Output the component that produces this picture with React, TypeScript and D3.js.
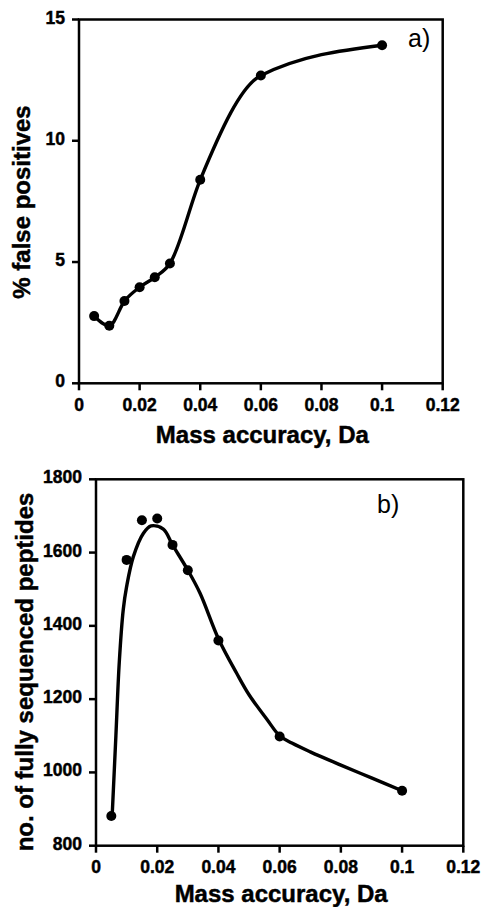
import React from "react";
import * as d3 from "d3";

// ---- Data ----
const massAccuracy = [0.005, 0.01, 0.015, 0.02, 0.025, 0.03, 0.04, 0.06, 0.1];
const falsePositives = [2.77, 2.37, 3.39, 3.96, 4.37, 4.94, 8.39, 12.69, 13.94];
const fullySequenced = [881, 1580, 1688, 1693, 1621, 1552, 1360, 1098, 950];

// fitted curve of panel b
const fitX = [0.0053, 0.0065, 0.0076, 0.0089, 0.010, 0.0122, 0.0155, 0.018, 0.022, 0.025, 0.030, 0.034, 0.040, 0.046, 0.050, 0.056, 0.060, 0.064, 0.070, 0.080, 0.090, 0.100];
const fitY = [885, 1100, 1300, 1444, 1507, 1589, 1653, 1673, 1664, 1621, 1552, 1489, 1365, 1270, 1212, 1143, 1100, 1080, 1056, 1020, 985, 950];

const xTicks = [0, 0.02, 0.04, 0.06, 0.08, 0.1, 0.12];
const xTickLabels = ["0", "0.02", "0.04", "0.06", "0.08", "0.1", "0.12"];
const yTicksA = [0, 5, 10, 15];
const yTicksB = [800, 1000, 1200, 1400, 1600, 1800];
const xTitle = "Mass accuracy, Da";
const yTitleA = "% false positives";
const yTitleB = "no. of fully sequenced peptides";

const FONT = "'Liberation Sans', Arial, Helvetica, sans-serif";

type PanelProps = {
  left: number; right: number; top: number; bottom: number;
  yDomain: [number, number]; yTicks: number[];
  xs: number[]; ys: number[];
  lineX: number[]; lineY: number[];
  curve: d3.CurveFactory;
  label: string; labelX: number; labelY: number;
  yTitle: string; yTitleX: number; yTitleY: number;
  xTitleY: number;
};

function Panel(p: PanelProps) {
  const x = d3.scaleLinear().domain([0, 0.12]).range([p.left, p.right]);
  const y = d3.scaleLinear().domain(p.yDomain).range([p.bottom, p.top]);
  const line = d3
    .line<number>()
    .x((_, i) => x(p.lineX[i]))
    .y((d) => y(d))
    .curve(p.curve);
  const tick = 7;
  const sw = 2.5;
  const boldText = { fontFamily: FONT, fontWeight: "bold" as const, stroke: "#000", strokeWidth: 0.45 };
  return (
    <g>
      <path d={line(p.lineY) || ""} fill="none" stroke="#000" strokeWidth={3.4} strokeLinejoin="round" />
      {p.xs.map((v, i) => (
        <circle key={i} cx={x(v)} cy={y(p.ys[i])} r={5} fill="#000" />
      ))}
      <rect x={p.left} y={p.top} width={p.right - p.left} height={p.bottom - p.top} fill="none" stroke="#000" strokeWidth={sw} />
      {xTicks.map((t, i) => (
        <g key={"x" + i}>
          <line x1={x(t)} x2={x(t)} y1={p.bottom} y2={p.bottom + tick} stroke="#000" strokeWidth={sw} />
          <text x={x(t)} y={p.bottom + 27.5} textAnchor="middle" fontSize={17.5} {...boldText}>
            {xTickLabels[i]}
          </text>
        </g>
      ))}
      {p.yTicks.map((t, i) => (
        <g key={"y" + i}>
          <line x1={p.left - tick} x2={p.left} y1={y(t)} y2={y(t)} stroke="#000" strokeWidth={sw} />
          <text x={p.left - 14} y={y(t) + 4} textAnchor="end" fontSize={17.5} {...boldText}>
            {t}
          </text>
        </g>
      ))}
      <text x={(p.left + p.right) / 2 + 1.5} y={p.xTitleY} textAnchor="middle" fontSize={24} {...boldText}>
        {xTitle}
      </text>
      <text
        transform={`translate(${p.yTitleX},${p.yTitleY}) rotate(-90)`}
        textAnchor="middle"
        fontSize={24}
        {...boldText}
      >
        {p.yTitle}
      </text>
      <text x={p.labelX} y={p.labelY} fontFamily={FONT} fontSize={25}>
        {p.label}
      </text>
    </g>
  );
}

export default function App() {
  return (
    <svg width={482} height={907} style={{ position: "absolute", left: 0, top: 0, background: "#fff" }}>
      <rect width={482} height={907} fill="#fff" />
      <Panel
        left={79} right={442.7} top={19.5} bottom={383.3}
        yDomain={[0, 15]} yTicks={yTicksA}
        xs={massAccuracy} ys={falsePositives}
        lineX={massAccuracy} lineY={falsePositives}
        curve={d3.curveMonotoneX}
        label="a)" labelX={408} labelY={47}
        yTitle={yTitleA} yTitleX={30} yTitleY={202}
        xTitleY={442.5}
      />
      <Panel
        left={96} right={463.3} top={479.3} bottom={845.7}
        yDomain={[800, 1800]} yTicks={yTicksB}
        xs={massAccuracy} ys={fullySequenced}
        lineX={fitX} lineY={fitY}
        curve={d3.curveCatmullRom.alpha(0.5)}
        label="b)" labelX={377} labelY={513}
        yTitle={yTitleB} yTitleX={33} yTitleY={672}
        xTitleY={901.5}
      />
    </svg>
  );
}
